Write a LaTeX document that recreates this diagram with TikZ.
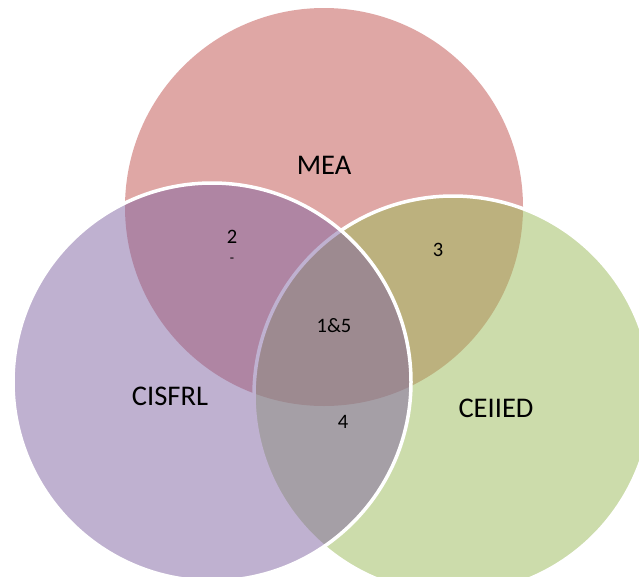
\documentclass[tikz,border=0pt]{standalone}
\usepackage{fontspec}
\setmainfont{Carlito}
\definecolor{meaRed}{HTML}{C0504D}
\definecolor{ceGreen}{HTML}{9BBB59}
\definecolor{ciPurple}{HTML}{8064A2}
\begin{document}
\begin{tikzpicture}[x=1pt,y=-1pt,
  setcircle/.style={circle, minimum size=398pt, inner sep=0pt, fill opacity=0.5},
  edged/.style={draw=white, draw opacity=1, line width=3.5pt},
  biglabel/.style={font=\fontsize{28.5}{32}\selectfont, text=black, inner sep=0pt},
  numlabel/.style={font=\fontsize{20.5}{24}\selectfont, text=black, inner sep=0pt}]
\useasboundingbox (0,0) rectangle (639,576);
\clip (0,0) rectangle (639,576);
\fill[white] (0,0) rectangle (639,576);
\node[setcircle, fill=meaRed] (mea) at (324,207) {};
\node[setcircle, fill=ceGreen, edged] (ceiied) at (453,395) {};
\node[setcircle, fill=ciPurple, edged] (cisfrl) at (212,382) {};
\node[biglabel] (tmea) at (324,165) {MEA};
\node[biglabel] (tcis) at (170,396) {CISFRL};
\node[biglabel] (tcei) at (496,408) {CEIIED};
\node[numlabel] (t15) at (334,326) {1\&5};
\node[numlabel] (t2) at (232,237) {2};
\node[numlabel, font=\fontsize{14}{16}\selectfont] (tdash) at (232,260) {-};
\node[numlabel] (t3) at (438,250) {3};
\node[numlabel] (t4) at (343,422) {4};
\end{tikzpicture}
\end{document}
